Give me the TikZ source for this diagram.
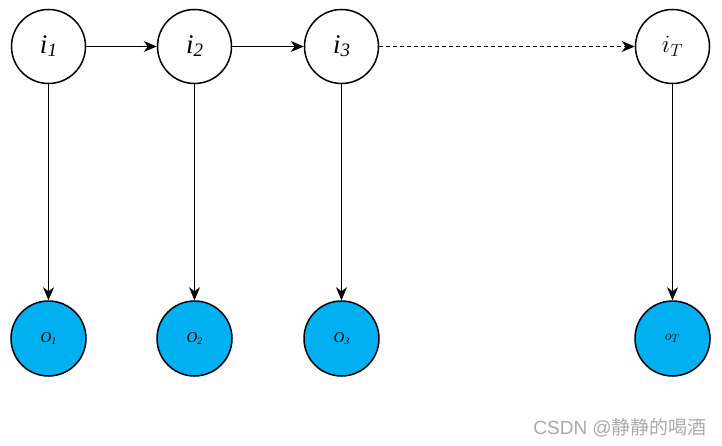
\documentclass[tikz,border=0pt]{standalone}
\usepackage{fontspec}
\setmainfont{Liberation Serif}
\newfontfamily\cjkfont{Noto Sans CJK SC}
\newfontfamily\wmfont{Liberation Sans}
\usetikzlibrary{arrows.meta}
\definecolor{obsblue}{RGB}{0,176,240}
\definecolor{wmgray}{RGB}{170,170,170}
\tikzset{
  hidden/.style={circle,draw=black,line width=1.5pt,fill=white,minimum size=74pt,inner sep=0pt},
  observed/.style={circle,draw=black,line width=1.5pt,fill=obsblue,minimum size=75pt,inner sep=0pt},
  link/.style={-{Stealth[length=13pt,width=11pt,inset=4pt]},line width=1pt},
  dlink/.style={link,dash pattern=on 4pt off 3pt},
  hlabel/.style={font=\fontsize{27}{28}\selectfont\itshape},
  olabel/.style={font=\fontsize{15}{16}\selectfont\itshape}
}
\newcommand{\hsub}[1]{\raisebox{-3pt}{\fontsize{19}{20}\selectfont #1}}
\newcommand{\osub}[1]{\raisebox{-2pt}{\fontsize{10}{11}\selectfont #1}}
\begin{document}
\begin{tikzpicture}[x=1pt,y=-1pt]
\useasboundingbox (0,0) rectangle (722,446);
\node[hidden,hlabel] (i1) at (48.5,46.5) {i\hsub{1}};
\node[hidden,hlabel] (i2) at (194.5,46.5) {i\hsub{2}};
\node[hidden,hlabel] (i3) at (341.5,46.5) {i\hsub{3}};
\node[hidden,font=\fontsize{23}{24}\selectfont] (iT) at (672.5,46.5) {$i_T$};
\node[observed,olabel] (o1) at (48.5,338.5) {O\osub{1}};
\node[observed,olabel] (o2) at (194.5,338.5) {O\osub{2}};
\node[observed,olabel] (o3) at (341.5,338.5) {O\osub{3}};
\node[observed,font=\fontsize{15}{16}\selectfont] (oT) at (672.5,338.5) {$o_T$};
\draw[link] (i1) -- (i2);
\draw[link] (i2) -- (i3);
\draw[dlink] (i3) -- (iT);
\draw[link] (i1) -- (o1);
\draw[link] (i2) -- (o2);
\draw[link] (i3) -- (o3);
\draw[link] (iT) -- (oT);
\node[text=wmgray,font=\fontsize{19}{20}\selectfont,anchor=east,inner sep=0pt] (wm) at (707,428) {\wmfont CSDN @\cjkfont 静静的喝酒};
\end{tikzpicture}
\end{document}
